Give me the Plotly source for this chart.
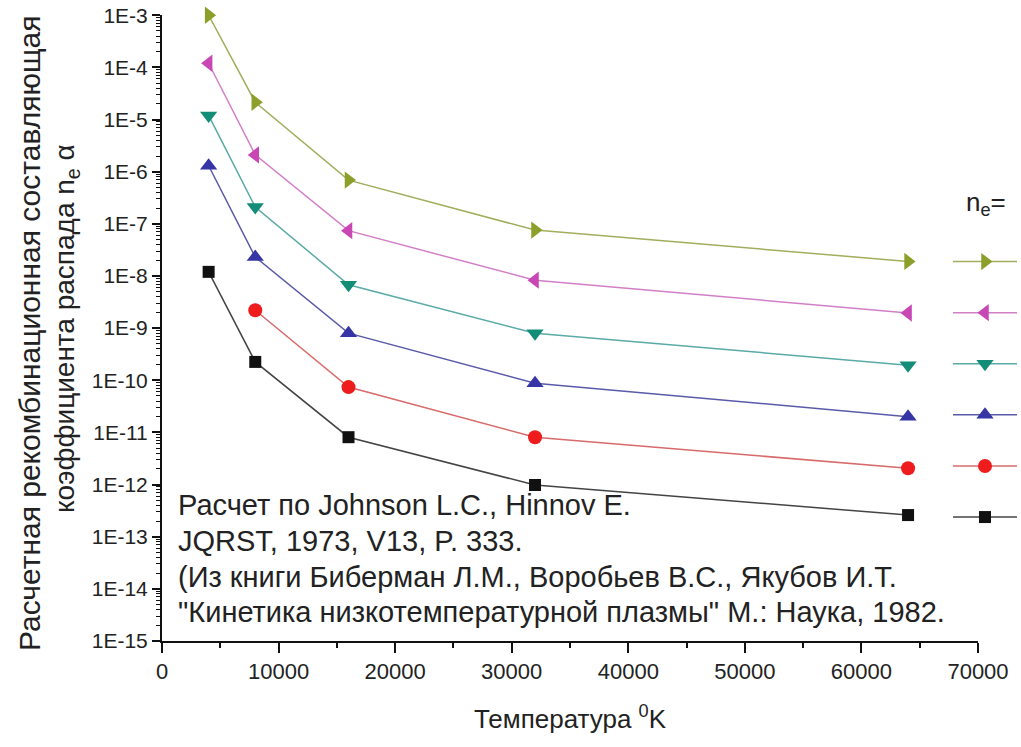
import plotly.graph_objects as go

# ---- data ----
temperature = [4000, 8000, 16000, 32000, 64000]
series_olive = [1.0e-3, 2.15e-5, 6.9e-7, 7.6e-8, 1.9e-8]
series_magenta = [1.2e-4, 2.1e-6, 7.4e-8, 8.3e-9, 1.95e-9]
series_teal = [1.2e-5, 2.1e-7, 6.8e-9, 8.0e-10, 1.95e-10]
series_blue = [1.3e-6, 2.3e-8, 8.0e-10, 8.8e-11, 2.0e-11]
temperature_red = [8000, 16000, 32000, 64000]
series_red = [2.2e-9, 7.4e-11, 8.1e-12, 2.05e-12]
series_black = [1.2e-8, 2.25e-10, 8.1e-12, 9.8e-13, 2.6e-13]

y_tick_exps = list(range(-3, -16, -1))
y_tick_vals = [10.0 ** e for e in y_tick_exps]
y_tick_text = ["1E%d" % e for e in y_tick_exps]
y_minor_vals = [m * 10.0 ** e for e in range(-15, -3) for m in range(2, 10)]
x_tick_vals = [0, 10000, 20000, 30000, 40000, 50000, 60000, 70000]
x_tick_text = [str(v) for v in x_tick_vals]
x_minor_vals = [5000, 15000, 25000, 35000, 45000, 55000, 65000]

FONT = "Liberation Sans, Arial, sans-serif"

traces = [
    ("olive", temperature, series_olive, "#8c9f2a", "#a3ad5c", "triangle-right", 15),
    ("magenta", temperature, series_magenta, "#c946b5", "#d27fc8", "triangle-left", 15),
    ("teal", temperature, series_teal, "#138c78", "#5aaaa6", "triangle-down", 15),
    ("blue", temperature, series_blue, "#3535a6", "#5a5aaa", "triangle-up", 15),
    ("red", temperature_red, series_red, "#ee1c1c", "#d86a6a", "circle", 14),
    ("black", temperature, series_black, "#111111", "#444444", "square", 12),
]

fig = go.Figure()
for name, xs, ys, mcol, lcol, sym, size in traces:
    fig.add_trace(go.Scatter(
        x=xs, y=ys, mode="lines+markers", name=" ",
        line=dict(color=lcol, width=1.5),
        marker=dict(color=mcol, symbol=sym, size=size, line=dict(width=0)),
        cliponaxis=False, hoverinfo="skip",
    ))

L, R, T, B = 162, 43, 15, 106
W, H = 1021, 747
pw, ph = W - L - R, H - T - B

def px(xp):
    return (xp - L) / pw

def py(yp):
    return (H - B - yp) / ph

fig.update_layout(
    width=W, height=H,
    margin=dict(l=L, r=R, t=T, b=B, pad=0, autoexpand=False),
    paper_bgcolor="white", plot_bgcolor="white",
    font=dict(family=FONT, color="#222222"),
    showlegend=True,
    legend=dict(
        x=px(948), y=py(231), xanchor="left", yanchor="top",
        font=dict(size=37, family=FONT), bgcolor="rgba(0,0,0,0)",
        itemwidth=64, borderwidth=0, tracegroupgap=0,
    ),
    xaxis=dict(
        range=[0, 70000], tickmode="array", tickvals=x_tick_vals, ticktext=x_tick_text,
        showgrid=False, zeroline=False, showline=True, linecolor="#111", linewidth=2,
        ticks="outside", ticklen=10, tickwidth=2, tickcolor="#111",
        tickfont=dict(size=22, family=FONT, color="#222"),
        minor=dict(tickmode="array", tickvals=x_minor_vals,
                   ticks="outside", ticklen=5, tickwidth=2, tickcolor="#111", showgrid=False),
        title=dict(text="Температура <sup>0</sup>K", font=dict(size=26, family=FONT, color="#222"), standoff=26),
    ),
    yaxis=dict(
        type="log", range=[-15, -2.995], tickmode="array", tickvals=y_tick_vals, ticktext=y_tick_text,
        showgrid=False, zeroline=False, showline=True, linecolor="#111", linewidth=2,
        ticks="outside", ticklen=8, tickwidth=2, tickcolor="#111",
        tickfont=dict(size=21, family=FONT, color="#222"),
        minor=dict(tickmode="array", tickvals=y_minor_vals, ticks="outside", ticklen=4,
                   tickwidth=1, tickcolor="#111", showgrid=False),
    ),
)

annotations = [
    dict(text="Расчетная рекомбинационная составляющая", x=px(29), y=py(333),
         textangle=-90, font=dict(size=30, family=FONT, color="#222")),
    dict(text="коэффициента распада n<sub>e</sub> α", x=px(66), y=py(329),
         textangle=-90, font=dict(size=28, family=FONT, color="#222")),
    dict(text="n<sub>e</sub>=", x=px(986), y=py(203),
         font=dict(size=26, family=FONT, color="#222")),
]
text_lines = [
    "Расчет по Johnson L.C., Hinnov E.",
    "JQRST, 1973, V13, P. 333.",
    "(Из книги Биберман Л.М., Воробьев В.С., Якубов И.Т.",
    "\"Кинетика низкотемпературной плазмы\" М.: Наука, 1982.",
]
line_y = [505, 541, 577, 612]
for t, yy in zip(text_lines, line_y):
    annotations.append(dict(text=t, x=px(176), y=py(yy), xanchor="left", align="left",
                            font=dict(size=29, family=FONT, color="#222")))
for a in annotations:
    a.update(xref="paper", yref="paper", showarrow=False)
    a.setdefault("xanchor", "center")
    a.setdefault("yanchor", "middle")
    fig.add_annotation(**a)

fig.write_html("out.html", config={"displayModeBar": False})
